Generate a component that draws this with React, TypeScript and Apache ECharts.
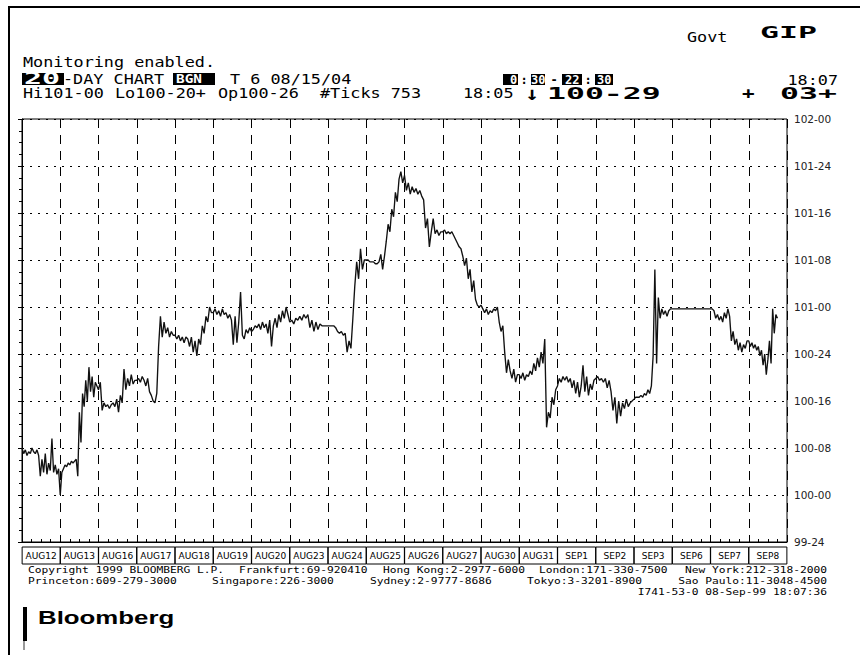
import React, { useEffect, useRef } from "react";
import * as echarts from "echarts";

// ---- Data ----
const dayLabels = ["AUG12", "AUG13", "AUG16", "AUG17", "AUG18", "AUG19", "AUG20", "AUG23", "AUG24", "AUG25",
  "AUG26", "AUG27", "AUG30", "AUG31", "SEP1", "SEP2", "SEP3", "SEP6", "SEP7", "SEP8"];

const aug12 = [100.25, 100.22, 100.24, 100.21, 100.23, 100.22, 100.25, 100.23, 100.22, 100.24, 100.21, 100.10, 100.19, 100.12, 100.22, 100.11, 100.17, 100.13, 100.30, 100.12, 100.16, 100.11, 100.14];
const aug13 = [100.00, 100.12, 100.14, 100.16, 100.15, 100.17, 100.16, 100.18, 100.17, 100.18, 100.19, 100.10, 100.44, 100.28, 100.54, 100.47, 100.61, 100.50, 100.68, 100.55, 100.63, 100.52, 100.60, 100.58];
const aug16 = [100.56, 100.60, 100.45, 100.49, 100.47, 100.48, 100.46, 100.48, 100.49, 100.47, 100.51, 100.44, 100.53, 100.49, 100.67, 100.56, 100.62, 100.58, 100.64, 100.59, 100.61];
const aug17 = [100.61, 100.62, 100.60, 100.63, 100.61, 100.58, 100.62, 100.55, 100.53, 100.50, 100.49, 100.54, 100.79, 100.95, 100.84, 100.92, 100.86, 100.89, 100.84, 100.87, 100.85];
const aug18 = [100.85, 100.83, 100.85, 100.82, 100.84, 100.81, 100.84, 100.83, 100.79, 100.84, 100.76, 100.82, 100.74, 100.83, 100.80, 100.90, 100.86, 100.95, 100.92, 101.00, 100.97];
const aug19 = [100.97, 100.99, 100.96, 100.98, 100.95, 100.99, 100.96, 100.97, 100.94, 100.96, 100.93, 100.80, 100.95, 100.81, 100.92, 101.08, 100.85, 100.83, 100.88, 100.86, 100.89];
const aug20 = [100.87, 100.88, 100.90, 100.89, 100.91, 100.88, 100.92, 100.89, 100.91, 100.86, 100.93, 100.79, 100.90, 100.94, 100.89, 100.96, 100.92, 100.98, 100.94, 101.00, 100.96];
const aug23 = [100.92, 100.93, 100.91, 100.94, 100.93, 100.95, 100.93, 100.96, 100.94, 100.96, 100.89, 100.93, 100.87, 100.92, 100.88, 100.91, 100.90, 100.90, 100.90];
const aug24 = [100.90, 100.90, 100.90, 100.90, 100.89, 100.87, 100.86, 100.87, 100.85, 100.86, 100.76, 100.82, 100.78, 100.94, 101.11, 101.24, 101.15, 101.31, 101.20, 101.25];
const aug25 = [101.25, 101.25, 101.24, 101.24, 101.24, 101.23, 101.23, 101.24, 101.28, 101.20, 101.27, 101.35, 101.44, 101.40, 101.52, 101.48, 101.61, 101.56, 101.68, 101.72, 101.66];
const aug26 = [101.70, 101.62, 101.66, 101.60, 101.64, 101.61, 101.63, 101.60, 101.62, 101.59, 101.57, 101.42, 101.47, 101.32, 101.40, 101.47, 101.39, 101.41, 101.38, 101.40];
const aug27 = [101.40, 101.41, 101.39, 101.40, 101.39, 101.40, 101.38, 101.36, 101.34, 101.32, 101.31, 101.27, 101.22, 101.26, 101.15, 101.20, 101.08, 101.14, 101.04, 101.01, 101.00];
const aug30 = [101.01, 100.99, 100.97, 100.99, 100.96, 100.98, 100.97, 100.99, 100.98, 101.00, 100.92, 100.87, 100.90, 100.76, 100.65, 100.72, 100.66, 100.62, 100.67, 100.60, 100.64];
const aug31 = [100.64, 100.62, 100.65, 100.61, 100.64, 100.63, 100.66, 100.64, 100.70, 100.66, 100.73, 100.68, 100.76, 100.70, 100.83, 100.36, 100.44, 100.41, 100.52, 100.48, 100.56];
const sep1 = [100.58, 100.62, 100.60, 100.63, 100.61, 100.63, 100.60, 100.62, 100.57, 100.61, 100.54, 100.60, 100.52, 100.58, 100.69, 100.55, 100.63, 100.53, 100.59, 100.56, 100.61];
const sep2 = [100.62, 100.63, 100.61, 100.62, 100.60, 100.62, 100.57, 100.61, 100.55, 100.45, 100.52, 100.38, 100.50, 100.42, 100.49, 100.46, 100.51, 100.47, 100.49, 100.50];
const sep3 = [100.51, 100.52, 100.52, 100.52, 100.53, 100.52, 100.54, 100.53, 100.56, 100.54, 100.58, 100.74, 101.20, 100.70, 101.05, 100.94, 100.99, 100.96, 100.98, 100.95, 100.98, 100.99];
const sep6 = [100.99, 100.99, 100.99, 100.99];
const sep7 = [100.99, 100.99, 100.98, 100.94, 100.96, 100.93, 100.95, 100.92, 100.97, 100.94, 100.99, 100.95, 100.82, 100.87, 100.80, 100.83, 100.77, 100.81, 100.76, 100.80, 100.78, 100.82];
const sep8: (number | null)[] = [100.82, 100.79, 100.81, 100.78, 100.80, 100.77, 100.79, 100.74, 100.77, 100.69, 100.75, 100.64, 100.72, 100.82, 100.70, 100.99, 100.86, 100.96, 100.94, null, null, null, null, null];

const dailyPrices: (number | null)[][] = [aug12, aug13, aug16, aug17, aug18, aug19, aug20, aug23, aug24, aug25,
  aug26, aug27, aug30, aug31, sep1, sep2, sep3, sep6, sep7, sep8];

const yMin = 99.75;
const yMax = 102;
const yStep = 0.25;

function fmt32(v: number): string {
  const whole = Math.floor(v + 1e-9);
  const n = Math.round((v - whole) * 32);
  return `${whole}-${String(n).padStart(2, "0")}`;
}

const MONO = '"DejaVu Sans Mono"';

function txt(text: string, x: number, y: number, o: any = {}) {
  return {
    type: "text",
    x,
    y,
    scaleX: o.sx ?? 1,
    silent: true,
    z: 10,
    style: {
      text,
      fill: o.fill ?? "#000",
      fontSize: o.size ?? 14,
      fontFamily: o.family ?? MONO,
      fontWeight: o.weight ?? "normal",
      align: o.align ?? "left",
      verticalAlign: "middle",
    },
  };
}

function box(x: number, y: number, w: number, h: number, fill = "#000") {
  return { type: "rect", silent: true, z: 9, shape: { x, y, width: w, height: h }, style: { fill } };
}

const TERM = { size: 14, sx: 1.2 };
const BIG = { size: 15, weight: "bold", sx: 2.1 };
const FOOT = { size: 9, sx: 1.25 };

export default function App() {
  const ref = useRef<HTMLDivElement>(null);
  useEffect(() => {
    if (!ref.current) return;
    const chart = echarts.init(ref.current, null, { renderer: "svg" });
    const data: [number, number][] = [];
    dailyPrices.forEach((arr, d) => {
      arr.forEach((v, j) => {
        if (v !== null) data.push([d + j / arr.length, v]);
      });
    });

    const graphic: any[] = [
      // frame
      box(8, 6, 852, 2),
      box(8, 6, 2, 649),
      // header
      txt("Govt", 687, 37, TERM),
      txt("GIP", 760, 33, BIG),
      txt("Monitoring enabled.", 23, 62, TERM),
      box(22, 73, 42, 12),
      txt("20", 24, 79, { ...BIG, sx: 2.0, fill: "#fff" }),
      txt("-DAY CHART", 63, 79, TERM),
      box(173, 73, 42, 12),
      txt("BGN", 176, 79, { size: 12, weight: "bold", sx: 1.2, fill: "#fff" }),
      txt("T 6 08/15/04", 230, 79, TERM),
      box(503, 74, 15, 11),
      txt("0", 510, 80, { size: 12, weight: "bold", fill: "#fff" }),
      txt(":", 524, 80, { size: 12, weight: "bold", align: "center" }),
      box(531, 74, 14, 11),
      txt("30", 531, 80, { size: 12, weight: "bold", fill: "#fff" }),
      txt("-", 554, 80, { size: 12, weight: "bold", align: "center" }),
      box(562, 74, 20, 11),
      txt("22", 565, 80, { size: 12, weight: "bold", fill: "#fff" }),
      txt(":", 588, 80, { size: 12, weight: "bold", align: "center" }),
      box(595, 74, 18, 11),
      txt("30", 597, 80, { size: 12, weight: "bold", fill: "#fff" }),
      txt("18:07", 838, 80, { ...TERM, align: "right" }),
      txt("Hi101-00", 23, 93, TERM),
      txt("Lo100-20+", 115, 93, TERM),
      txt("Op100-26", 218, 93, TERM),
      txt("#Ticks 753", 320, 93, TERM),
      txt("18:05", 463, 93, TERM),
      txt("↓", 525, 94, { size: 19, weight: "bold", sx: 1.2 }),
      txt("100-29", 547, 94, BIG),
      txt("+", 742, 94, { size: 15, weight: "bold", sx: 1.4 }),
      txt("03+", 780, 94, BIG),
      // footer
      txt("Copyright 1999 BLOOMBERG L.P.", 28, 570, FOOT),
      txt("Frankfurt:69-920410", 239, 570, FOOT),
      txt("Hong Kong:2-2977-6000", 383, 570, FOOT),
      txt("London:171-330-7500", 539, 570, FOOT),
      txt("New York:212-318-2000", 827, 570, { ...FOOT, align: "right" }),
      txt("Princeton:609-279-3000", 28, 581, FOOT),
      txt("Singapore:226-3000", 212, 581, FOOT),
      txt("Sydney:2-9777-8686", 370, 581, FOOT),
      txt("Tokyo:3-3201-8900", 527, 581, FOOT),
      txt("Sao Paulo:11-3048-4500", 827, 581, { ...FOOT, align: "right" }),
      txt("I741-53-0 08-Sep-99 18:07:36", 827, 592, { ...FOOT, align: "right" }),
      // logo
      box(23, 607, 4, 34),
      box(23, 641, 2, 9, "#999"),
      txt("Bloomberg", 38, 617, { family: '"Liberation Sans"', size: 19, weight: "bold", sx: 1.36 }),
    ];

    const option: any = {
      animation: false,
      backgroundColor: "#fff",
      grid: { left: 22, top: 119, right: 73, bottom: 113, show: true, borderColor: "#000", borderWidth: 1 },
      xAxis: [
        {
          type: "value",
          min: 0,
          max: dayLabels.length,
          interval: 1,
          position: "bottom",
          axisLine: { show: true, lineStyle: { color: "#000", width: 1 } },
          axisTick: { show: true, inside: true, length: 5, lineStyle: { color: "#000" } },
          minorTick: { show: true, splitNumber: 4, length: 3, lineStyle: { color: "#000" } },
          axisLabel: { show: false },
          splitLine: { show: true, lineStyle: { color: "#000", width: 1, type: [9, 7] } },
        },
        {
          type: "category",
          data: dayLabels,
          position: "bottom",
          boundaryGap: true,
          axisLine: { show: false },
          axisTick: { show: false },
          splitLine: { show: false },
          axisLabel: {
            interval: 0,
            margin: 5,
            fontFamily: '"DejaVu Sans"',
            fontSize: 9,
            color: "#000",
            borderColor: "#000",
            borderWidth: 1,
            width: 38,
            height: 13,
            lineHeight: 13,
            padding: [2, 0, 2, 0],
            align: "center",
          },
        },
      ],
      yAxis: {
        type: "value",
        position: "right",
        min: yMin,
        max: yMax,
        interval: yStep,
        axisLine: { show: true, lineStyle: { color: "#000", width: 1 } },
        axisTick: { show: true, inside: true, length: 4, lineStyle: { color: "#000" } },
        minorTick: { show: true, splitNumber: 4, length: 3, lineStyle: { color: "#000" } },
        axisLabel: { formatter: fmt32, margin: 7, fontFamily: '"DejaVu Sans"', fontSize: 10.5, color: "#222" },
        splitLine: { show: true, lineStyle: { color: "#000", width: 1, type: [2, 6] } },
      },
      series: [
        {
          type: "line",
          xAxisIndex: 0,
          data,
          symbol: "none",
          showSymbol: false,
          lineStyle: { color: "#111", width: 1.35 },
        },
      ],
      graphic,
    };
    chart.setOption(option);
    return () => chart.dispose();
  }, []);
  return (
    <div
      ref={ref}
      style={{ position: "fixed", left: 0, top: 0, width: 860, height: 655, background: "#fff" }}
    />
  );
}
